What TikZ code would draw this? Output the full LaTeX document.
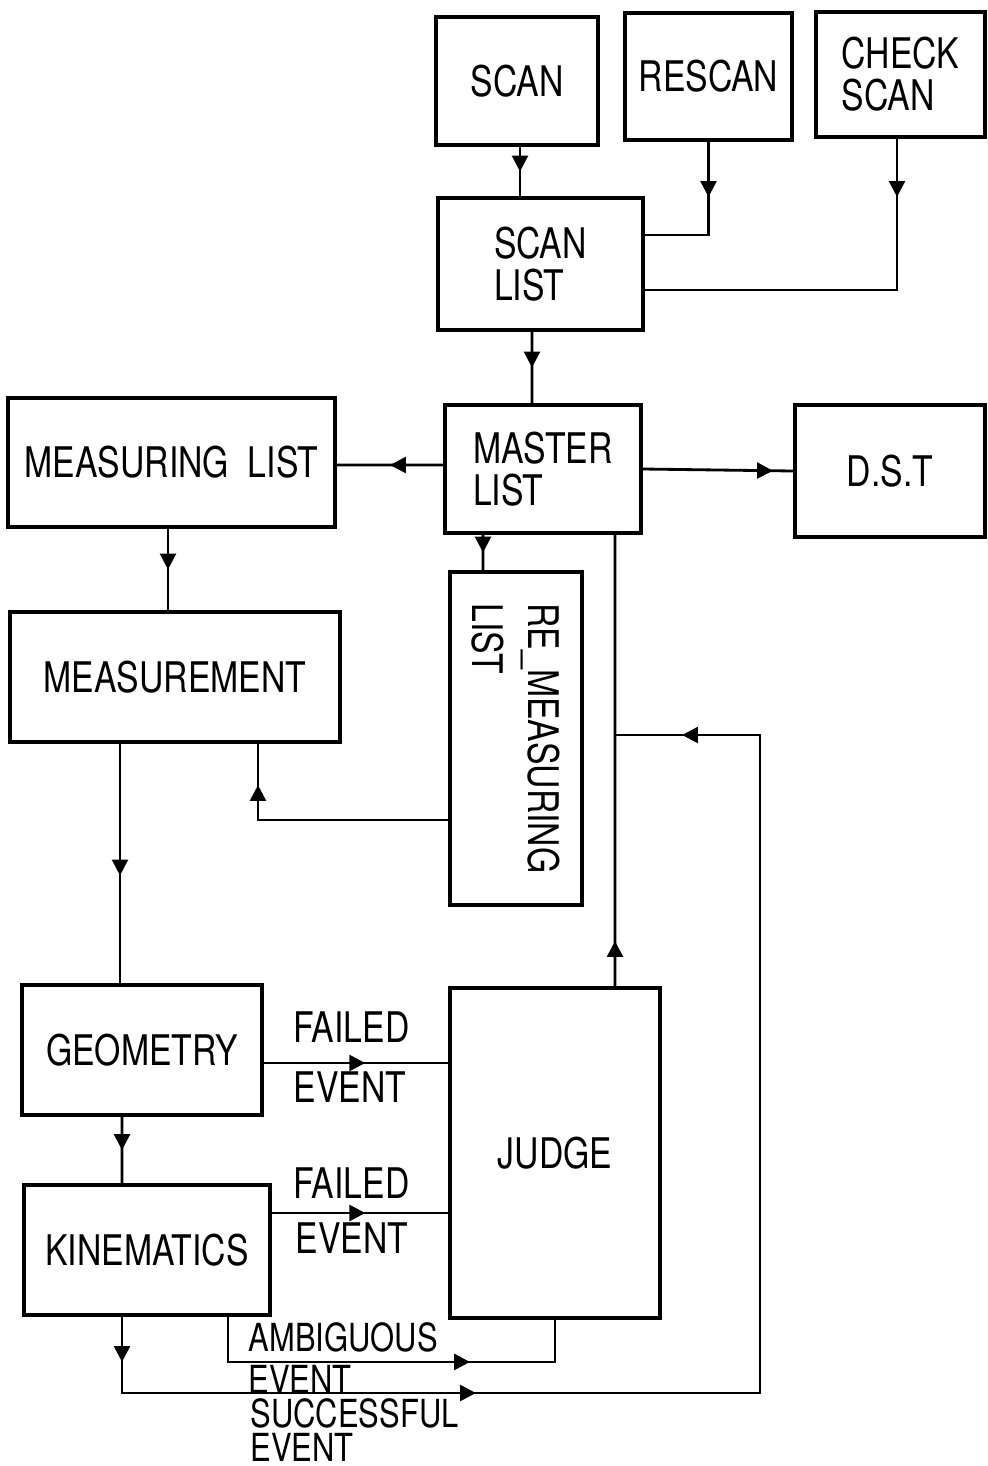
\documentclass[tikz,border=0pt]{standalone}
\usepackage{fontspec}
\setmainfont{TeX Gyre Heros}[FakeStretch=0.8]
\usetikzlibrary{arrows.meta, positioning, calc, decorations.markings}

\begin{document}
\begin{tikzpicture}[
  y=-1cm,
  font=\fontsize{12}{12}\selectfont,
  box/.style={rectangle, draw, line width=1.1pt, align=center, inner sep=2pt},
  boxwh/.style 2 args={minimum width=#1cm, minimum height=#2cm},
  textbox/.style={box, align=left},
  conn/.style={line width=0.8pt},
  midarrow/.style={postaction={decorate, decoration={markings,
      mark=at position #1 with {\arrow{Triangle[length=4.5pt, width=4.5pt]}}}}},
  lbl/.style={inner sep=0pt},
  smalllbl/.style={lbl, font=\fontsize{11}{11}\selectfont}
]
\useasboundingbox (0,0) rectangle (9.88,14.66);

% Scanning row
\node[box, boxwh={1.62}{1.28}]     (scan)   at (5.17,0.81)   {SCAN};
\node[box, boxwh={1.67}{1.27}]     (rescan) at (7.085,0.765) {RESCAN};
\node[textbox, boxwh={1.69}{1.25}] (check)  at (9.005,0.745) {CHECK\\SCAN};

% Lists
\node[textbox, boxwh={2.05}{1.32}] (scanlist) at (5.405,2.64) {SCAN\\LIST};
\node[textbox, boxwh={1.96}{1.28}] (master)   at (5.43,4.69)  {MASTER\\LIST};
\node[box, boxwh={3.27}{1.29}]     (measlist) at (1.715,4.625) {MEASURING\ \ LIST};
\node[box, boxwh={1.90}{1.32}]     (dst)      at (8.90,4.71)  {D.S.T};
\node[box, boxwh={1.32}{3.33}]     (remeas)   at (5.16,7.385) {};
\node[rotate=-90, align=left, font=\fontsize{12}{16}\selectfont]
  (remeastext) at (remeas.center) {RE\_MEASURING\\LIST};

% Processing chain
\node[box, boxwh={3.30}{1.30}] (measurement) at (1.75,6.77)  {MEASUREMENT};
\node[box, boxwh={2.40}{1.30}] (geometry)    at (1.42,10.50) {GEOMETRY};
\node[box, boxwh={2.46}{1.30}] (kinematics)  at (1.47,12.50) {KINEMATICS};
\node[box, boxwh={2.10}{3.30}] (judge)       at (5.55,11.53) {JUDGE};

% Event labels
\node[lbl, anchor=west] (failgeo) at (2.93,10.27) {FAILED};
\node[lbl, anchor=west] (evgeo)   at (2.93,10.87) {EVENT};
\node[lbl, anchor=west] (failkin) at (2.93,11.83) {FAILED};
\node[lbl, anchor=west] (evkin)   at (2.95,12.38) {EVENT};
\node[smalllbl, anchor=west] (ambig)   at (2.48,13.37) {AMBIGUOUS};
\node[smalllbl, anchor=west] (evamb)   at (2.48,13.79) {EVENT};
\node[smalllbl, anchor=west] (success) at (2.50,14.13) {SUCCESSFUL};
\node[smalllbl, anchor=west] (evsucc)  at (2.50,14.47) {EVENT};

\coordinate (join) at (6.15,7.35);

% Arrows
\draw[conn, midarrow=0.5] ([xshift=0.03cm]scan.south) -- ([xshift=-0.205cm]scanlist.north);
\draw[conn, midarrow=0.55cm] (rescan.south) |- ([yshift=0.29cm]scanlist.east);
\draw[conn, midarrow=0.58cm] ([xshift=-0.035cm]check.south) |- ([yshift=-0.26cm]scanlist.east);
\draw[conn, midarrow=0.5] ([xshift=-0.085cm]scanlist.south) -- ([xshift=-0.11cm]master.north);
\draw[conn, midarrow=0.5] ([yshift=0.04cm]master.west) -- ([yshift=-0.025cm]measlist.east);
\draw[conn, midarrow=1.3cm] (master.east) -- (dst.west);
\draw[conn, midarrow=0.5] ([xshift=-0.60cm]master.south) -- ([xshift=-0.33cm]remeas.north);
\draw[conn, midarrow=0.5] ([xshift=-0.035cm]measlist.south) -- ([xshift=-0.07cm]measurement.north);
\draw[conn, midarrow=2.25cm] ([yshift=-0.815cm]remeas.west) -| ([xshift=0.83cm]measurement.south);
\draw[conn, midarrow=0.55] ([xshift=-0.55cm]measurement.south) -- ([xshift=-0.22cm]geometry.north);
\draw[conn, midarrow=0.5] ([xshift=-0.20cm]geometry.south) -- ([xshift=-0.25cm]kinematics.north);
\draw[conn, midarrow=0.55] ([yshift=-0.13cm]geometry.east) -- ([yshift=0.90cm]judge.west);
\draw[conn, midarrow=0.53] ([yshift=0.37cm]kinematics.east) -- ([yshift=-0.60cm]judge.west);
\draw[conn, midarrow=0.45cm] ([xshift=0.60cm]judge.north) -- ([xshift=0.72cm]master.south);
\draw[conn, midarrow=2.87cm] ([xshift=0.81cm]kinematics.south) |- ([yshift=-0.42cm]judge.south) -- (judge.south);
\draw[conn, midarrow=0.45cm, midarrow=4.3cm, midarrow=14.5cm]
  ([xshift=-0.25cm]kinematics.south) |- (7.60,13.93) |- (join);

\end{tikzpicture}
\end{document}
